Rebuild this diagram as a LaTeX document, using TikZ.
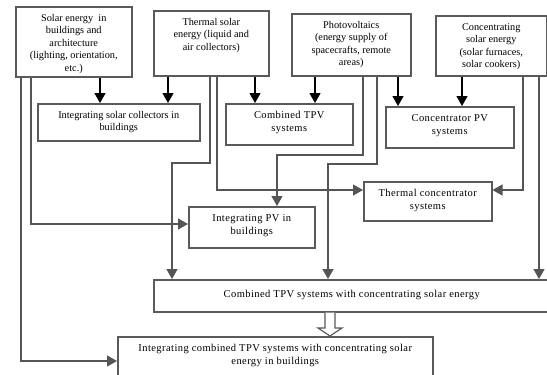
\documentclass[tikz,border=0pt]{standalone}
\usepackage{fontspec}
\setmainfont{Liberation Serif}
\usetikzlibrary{arrows.meta,calc}
\definecolor{boxgray}{HTML}{5A5A5A}
\definecolor{linegray}{HTML}{555555}
\tikzset{
  boxst/.style={draw=boxgray, line width=1.5pt, fill=white, inner sep=0pt, rectangle},
  txt/.style={align=center, inner sep=2pt, font=\fontsize{10.3}{12.5}\selectfont},
  wtxt/.style={align=center, inner sep=2pt, font=\fontsize{10.5}{13}\selectfont\addfontfeature{LetterSpace=4}},
  conn/.style={draw=black, line width=1.3pt, -{Triangle[length=10pt,width=11pt]}},
  gconn/.style={draw=linegray, line width=1.2pt, -{Triangle[length=10pt,width=11pt]}},
  hollow/.style={draw=boxgray, line width=1.2pt, fill=white},
}
\newcommand\mybox[7]{%
  \node[boxst, anchor=north west, minimum width={(#4-#2)*1pt}, minimum height={(#5-#3)*1pt}] (#1) at (#2,#3) {};
  \node[#7, anchor=north] (#1t) at ([yshift=-6pt]#1.north) {#6};
}
\begin{document}
\begin{tikzpicture}[x=1pt,y=-1pt]
\fill[white] (0,0) rectangle (547,375);
\useasboundingbox (0,0) rectangle (547,375);

% boxes
\mybox{A}{15}{6}{131}{76}{Solar energy\ \ in\\ buildings and\\ architecture\\ (lighting, orientation,\\ etc.)}{txt}
\mybox{B}{153}{10}{268}{75}{Thermal solar\\ energy (liquid and\\ air collectors)}{txt}
\mybox{C}{291}{13}{410}{75}{Photovoltaics\\ (energy supply of\\ spacecrafts, remote\\ areas)}{txt}
\mybox{D}{435}{15}{546}{75}{Concentrating\\ solar energy\\ (solar furnaces,\\ solar cookers)}{txt}
\mybox{col}{37}{103}{199}{140}{Integrating solar collectors in\\ buildings}{txt}
\mybox{ctpv}{225}{103}{352}{144}{Combined TPV\\ systems}{wtxt}
\mybox{cpv}{385}{106}{513}{147}{Concentrator PV\\ systems}{wtxt}
\mybox{thc}{363}{181}{491}{220}{Thermal concentrator\\ systems}{wtxt}
\mybox{ipv}{188}{206}{314}{247}{Integrating PV in\\ buildings}{wtxt}
\node[boxst, anchor=north west, minimum width=400pt, minimum height=32pt] (big) at (153,279) {};
\node[wtxt] (bigt) at ([xshift=-2pt,yshift=1pt]big.center) {Combined TPV systems with concentrating solar energy};
\mybox{bot}{117}{336}{432}{382}{Integrating combined TPV systems with concentrating solar\\ energy in buildings}{wtxt}

% connectors
\draw[conn] (100,0 |- A.south) -- (100,0 |- col.north);
\draw[conn] (168,0 |- B.south) -- (168,0 |- col.north);
\draw[conn] (255,0 |- B.south) -- (255,0 |- ctpv.north);
\draw[conn] (315,0 |- C.south) -- (315,0 |- ctpv.north);
\draw[conn] (398,0 |- C.south) -- (398,0 |- cpv.north);
\draw[conn] (462,0 |- D.south) -- (462,0 |- cpv.north);

\coordinate (r1) at (31,224);
\draw[gconn] (31,0 |- A.south) -- (r1) -- (ipv.west |- r1);
\coordinate (r2) at (21,361);
\draw[gconn] (21,0 |- A.south) -- (r2) -- (bot.west |- r2);
\draw[gconn] (210,0 |- B.south) -- (210,163) -- (172,163) -- (172,0 |- big.north);
\coordinate (r3) at (217,190);
\draw[gconn] (217,0 |- B.south) -- (r3) -- (thc.west |- r3);
\draw[gconn] (363,0 |- C.south) -- (363,155) -- (277,155) -- (277,0 |- ipv.north);
\draw[gconn] (377,0 |- C.south) -- (377,164) -- (328,164) -- (328,0 |- big.north);
\coordinate (r4) at (523,190);
\draw[gconn] (523,0 |- D.south) -- (r4) -- (thc.east |- r4);
\draw[gconn] (539,0 |- D.south) -- (539,0 |- big.north);

% hollow arrow
\coordinate (ha) at (330,0 |- big.south);
\coordinate (hb) at (330,0 |- bot.north);
\draw[hollow] ($(ha)+(-5,0)$) -- ($(hb)+(-5,-8)$) -- ($(hb)+(-12,-8)$) -- (hb) -- ($(hb)+(12,-8)$) -- ($(hb)+(5,-8)$) -- ($(ha)+(5,0)$);
\end{tikzpicture}
\end{document}
